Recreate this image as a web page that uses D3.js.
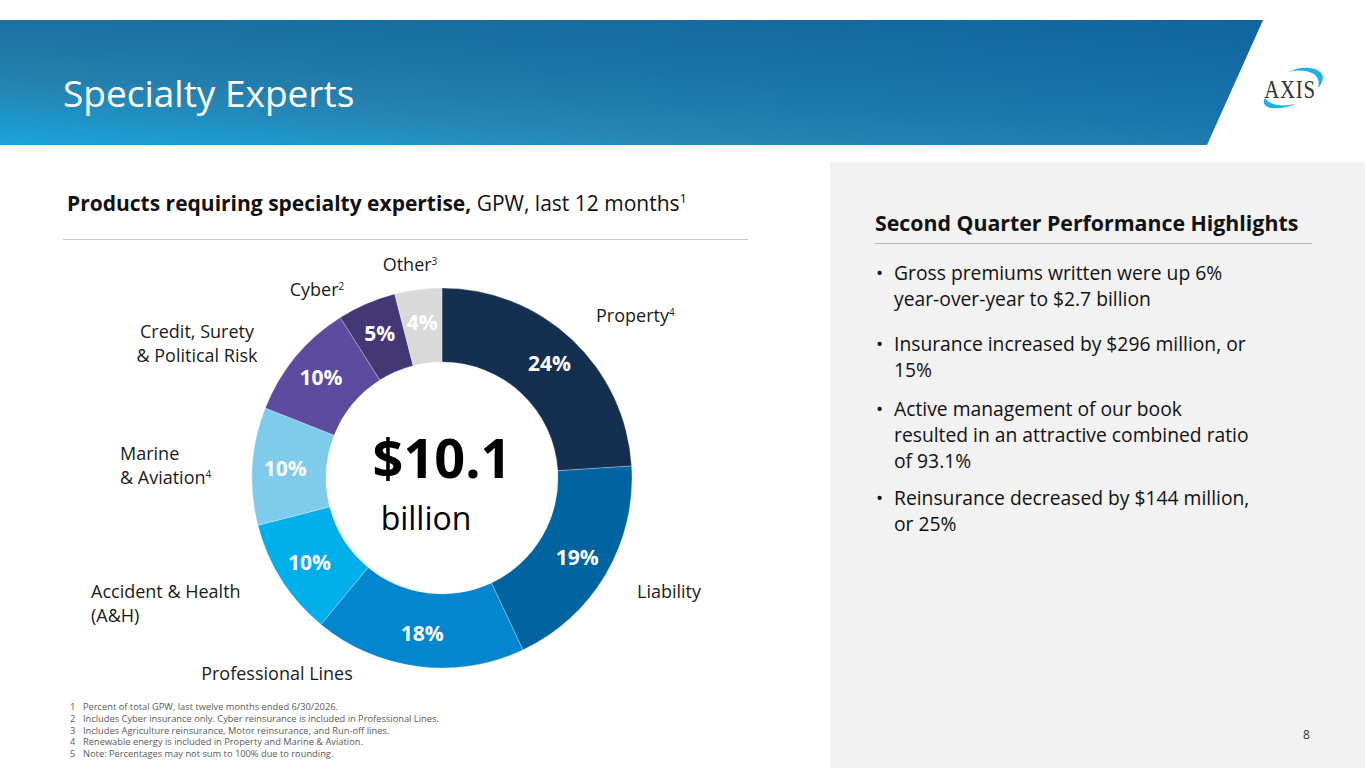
<!DOCTYPE html>
<html>
<head>
<meta charset="utf-8">
<script src="https://cdn.jsdelivr.net/npm/d3@7"></script>
<style>
  html, body { margin: 0; padding: 0; background: #fff; }
  svg { display: block; font-family: "Open Sans", "Noto Sans", sans-serif; }
</style>
</head>
<body>
<script>
/* DATA */
const categories = ["Property", "Liability", "Professional Lines", "Accident & Health (A&H)",
  "Marine & Aviation", "Credit, Surety & Political Risk", "Cyber", "Other"];
const shares = [24, 19, 18, 10, 10, 10, 5, 4];
const sliceColors = ["#152f50", "#0064a0", "#0385cf", "#00aeea", "#7fcbeb", "#5c4b9f", "#433774", "#d9d9d9"];
// label lines, [text, superscript]
const labelLines = [
  [["Property", "4"]],
  [["Liability", ""]],
  [["Professional Lines", ""]],
  [["Accident & Health", ""], ["(A&H)", ""]],
  [["Marine", ""], ["& Aviation", "4"]],
  [["Credit, Surety", ""], ["& Political Risk", ""]],
  [["Cyber", "2"]],
  [["Other", "3"]]
];
const totalLabel = "$10.1";
const totalUnit = "billion";
const highlights = [
  ["Gross premiums written were up 6%", "year-over-year to $2.7 billion"],
  ["Insurance increased by $296 million, or", "15%"],
  ["Active management of our book", "resulted in an attractive combined ratio", "of 93.1%"],
  ["Reinsurance decreased by $144 million,", "or 25%"]
];
const footnotes = [
  "Percent of total GPW, last twelve months ended 6/30/2026.",
  "Includes Cyber insurance only. Cyber reinsurance is included in Professional Lines.",
  "Includes Agriculture reinsurance, Motor reinsurance, and Run-off lines.",
  "Renewable energy is included in Property and Marine & Aviation.",
  "Note: Percentages may not sum to 100% due to rounding."
];

/* LAYOUT */
const width = 1365, height = 768;
const cx = 442, cy = 478, outerR = 190, innerR = 116;
// label positions: [x, y of first baseline, anchor]
const labelPos = [
  [596, 322, "start"], [637, 598, "start"], [277, 680, "middle"], [91, 598, "start"],
  [120, 460, "start"], [197, 338, "middle"], [317, 296, "middle"], [410, 271, "middle"]
];

const svg = d3.select("body").append("svg")
  .attr("width", width).attr("height", height);

const defs = svg.append("defs");
const grad = defs.append("linearGradient").attr("id", "hdr")
  .attr("x1", "0").attr("y1", "1").attr("x2", "1").attr("y2", "0");
grad.append("stop").attr("offset", "0%").attr("stop-color", "#1aa5dc");
grad.append("stop").attr("offset", "30%").attr("stop-color", "#2786b5");
grad.append("stop").attr("offset", "55%").attr("stop-color", "#1a79b0");
grad.append("stop").attr("offset", "100%").attr("stop-color", "#0c68ae");
const grad2 = defs.append("linearGradient").attr("id", "hdr2")
  .attr("x1", "0").attr("y1", "0").attr("x2", "0").attr("y2", "1");
grad2.append("stop").attr("offset", "0%").attr("stop-color", "#1c5f86").attr("stop-opacity", 0.35);
grad2.append("stop").attr("offset", "100%").attr("stop-color", "#1c5f86").attr("stop-opacity", 0);

// header band
const band = "M0,20 L1263,20 L1207,145 L0,145 Z";
svg.append("path").attr("d", band).attr("fill", "url(#hdr)");
svg.append("path").attr("d", band).attr("fill", "url(#hdr2)");
svg.append("text")
  .attr("x", 63).attr("y", 107)
  .attr("fill", "#fff").attr("font-size", 37)
  .text("Specialty Experts");

// logo
const logo = svg.append("g").attr("transform", "translate(1290,88)");
logo.append("path")
  .attr("d", "M-2,-16 C10,-22 26,-22 32,-14 C34,-10 32,-4 28,0 C30,-6 28,-12 22,-15 C14,-18 6,-18 -2,-16 Z")
  .attr("fill", "#1fb0e6");
logo.append("path")
  .attr("d", "M-25,10 C-28,14 -26,19 -18,20 C-10,21 -2,19 6,16 C-4,18 -14,18 -19,15 C-23,13 -24,11 -25,10 Z")
  .attr("fill", "#1fb0e6");
logo.append("text")
  .attr("transform", "translate(0,10) scale(0.8,1)")
  .attr("text-anchor", "middle")
  .attr("font-family", "'Liberation Serif', serif")
  .attr("font-size", 26).attr("fill", "#333")
  .attr("letter-spacing", 1)
  .text("AXIS");

// right panel
svg.append("rect").attr("x", 830).attr("y", 162).attr("width", width - 830).attr("height", height - 162)
  .attr("fill", "#f2f2f2");

// subtitle
const sub = svg.append("text").attr("x", 67).attr("y", 211).attr("font-size", 21).attr("fill", "#111");
sub.append("tspan").attr("font-weight", "bold").text("Products requiring specialty expertise,");
sub.append("tspan").text(" GPW, last 12 months");
sub.append("tspan").attr("font-size", 13).attr("dy", -8).text("1");
svg.append("line").attr("x1", 63).attr("x2", 748).attr("y1", 239.5).attr("y2", 239.5)
  .attr("stroke", "#c8c8c8").attr("stroke-width", 1);

// donut
const pie = d3.pie().sort(null).value(d => d)(shares);
const arc = d3.arc().innerRadius(innerR).outerRadius(outerR);
const labelArc = d3.arc().innerRadius(157).outerRadius(157);
const chart = svg.append("g").attr("transform", `translate(${cx},${cy})`);

chart.selectAll("path.slice")
  .data(pie)
  .join("path")
  .attr("class", "slice")
  .attr("d", arc)
  .attr("fill", (d, i) => sliceColors[i])
  .attr("stroke", "rgba(255,255,255,0.35)")
  .attr("stroke-width", 0.8);

chart.selectAll("text.pct")
  .data(pie)
  .join("text")
  .attr("class", "pct")
  .attr("transform", d => `translate(${labelArc.centroid(d)})`)
  .attr("text-anchor", "middle")
  .attr("dy", "0.36em")
  .attr("font-size", 21).attr("font-weight", "bold")
  .attr("fill", "#fff")
  .text(d => d.data + "%");

chart.append("text")
  .attr("x", 0).attr("y", 0)
  .attr("text-anchor", "middle")
  .attr("font-size", 54).attr("font-weight", "bold").attr("fill", "#000")
  .text(totalLabel);
chart.append("text")
  .attr("x", -16).attr("y", 52)
  .attr("text-anchor", "middle")
  .attr("font-size", 32).attr("fill", "#000")
  .text(totalUnit);

// outer category labels
labelLines.forEach((lines, i) => {
  const [x, y, anchor] = labelPos[i];
  const t = svg.append("text")
    .attr("x", x).attr("y", y)
    .attr("text-anchor", anchor)
    .attr("font-size", 18).attr("fill", "#1a1a1a")
    .attr("aria-label", categories[i]);
  lines.forEach(([txt, sup], j) => {
    t.append("tspan").attr("x", x).attr("y", y + j * 24).text(txt);
    if (sup) t.append("tspan").attr("font-size", 10).attr("dy", -6).text(sup);
  });
});

// highlights
svg.append("text")
  .attr("x", 875).attr("y", 231)
  .attr("font-size", 21.3).attr("font-weight", "bold").attr("fill", "#111")
  .text("Second Quarter Performance Highlights");
svg.append("line").attr("x1", 875).attr("x2", 1312).attr("y1", 243.5).attr("y2", 243.5)
  .attr("stroke", "#b8b8b8").attr("stroke-width", 1);

const bulletTops = [280, 351, 416, 505];
highlights.forEach((lines, i) => {
  svg.append("text").attr("x", 876).attr("y", bulletTops[i])
    .attr("font-size", 19).attr("fill", "#111").text("•");
  lines.forEach((ln, j) => {
    svg.append("text")
      .attr("x", 894).attr("y", bulletTops[i] + j * 26)
      .attr("font-size", 19.3).attr("fill", "#111")
      .text(ln);
  });
});

// footnotes
footnotes.forEach((f, i) => {
  const y = 710 + i * 11.8;
  svg.append("text").attr("x", 70).attr("y", y).attr("font-size", 9.3).attr("fill", "#595959").text(i + 1);
  svg.append("text").attr("x", 83).attr("y", y).attr("font-size", 9.3).attr("fill", "#595959").text(f);
});

// page number
svg.append("text").attr("x", 1303).attr("y", 739).attr("font-size", 12).attr("fill", "#333").text("8");
</script>
</body>
</html>
